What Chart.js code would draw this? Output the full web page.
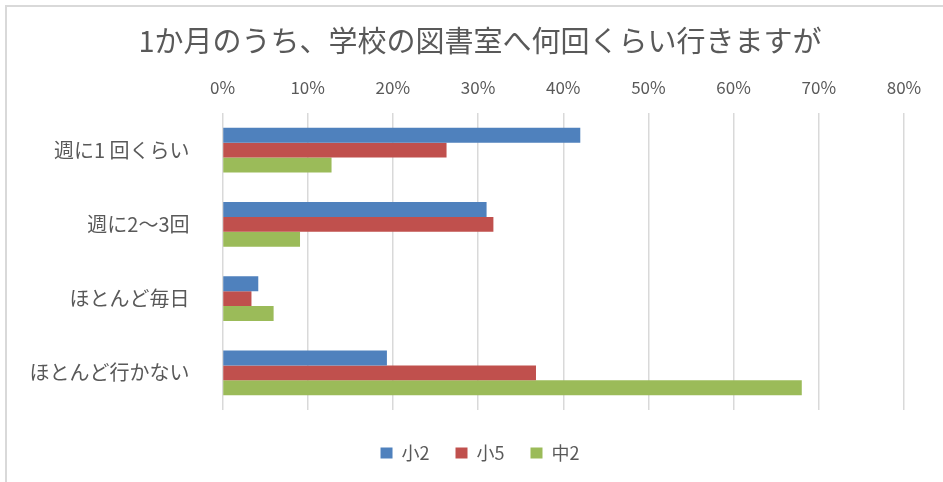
<!DOCTYPE html>
<html>
<head>
<meta charset="utf-8">
<script src="https://cdn.jsdelivr.net/npm/chart.js@4/dist/chart.umd.min.js"></script>
<style>
  html, body { margin: 0; padding: 0; background: #fff; }
</style>
</head>
<body>
<canvas id="chart" width="943" height="482"></canvas>
<script>
const titleText = '1か月のうち、学校の図書室へ何回くらい行きますが'
const categories = ['週に1 回くらい', '週に2～3回', 'ほとんど毎日', 'ほとんど行かない']
const seriesNames = ['小2', '小5', '中2']
const sho2 = [42.0, 31.0, 4.2, 19.3]
const sho5 = [26.3, 31.8, 3.4, 36.8]
const chu2 = [12.8, 9.1, 6.0, 68.0]
const xTicks = [0, 10, 20, 30, 40, 50, 60, 70, 80]

const colors = ['#4F81BD', '#C0504D', '#9BBB59']
const font = '"Noto Sans CJK JP", "Noto Sans", sans-serif'
const textColor = '#595959'

const frame = {
  id: 'frame',
  beforeDraw(chart) {
    const { ctx } = chart
    ctx.save()
    ctx.strokeStyle = '#d9d9d9'
    ctx.lineWidth = 2
    ctx.beginPath()
    ctx.moveTo(6, chart.height)
    ctx.lineTo(6, 6)
    ctx.lineTo(chart.width, 6)
    ctx.stroke()
    ctx.restore()
  },
}

const makeDataset = (label, data, color) => ({
  label,
  data,
  backgroundColor: color,
  borderWidth: 0,
  categoryPercentage: 0.606,
  barPercentage: 1.0,
})

// empty spacer axis, only used to reserve room around the plot
const spacer = (axis, position, size) => ({
  axis,
  type: axis === 'x' ? 'linear' : 'category',
  position,
  afterFit: (a) => {
    if (axis === 'x') a.height = size
    else a.width = size
  },
  ticks: { display: false },
  grid: { display: false },
  border: { display: false },
})

new Chart(document.getElementById('chart'), {
  type: 'bar',
  data: {
    labels: categories,
    datasets: [
      makeDataset(seriesNames[0], sho2, colors[0]),
      makeDataset(seriesNames[1], sho5, colors[1]),
      makeDataset(seriesNames[2], chu2, colors[2]),
    ],
  },
  options: {
    indexAxis: 'y',
    responsive: false,
    animation: false,
    layout: { padding: { left: 17, right: 0, top: 0, bottom: 10 } },
    scales: {
      x: {
        position: 'top',
        min: 0,
        max: 80,
        afterBuildTicks: (axis) => { axis.ticks = xTicks.map((v) => ({ value: v })) },
        afterFit: (axis) => { axis.height = 54.2 },
        ticks: {
          padding: 15,
          color: textColor,
          font: { family: font, size: 17 },
          callback: (v) => v + '%',
        },
        grid: { color: '#d9d9d9', lineWidth: 1.5, drawTicks: false },
        border: { display: false },
      },
      padBottom: spacer('x', 'bottom', 8),
      padRight: spacer('y', 'right', 39),
      y: {
        afterFit: (axis) => { axis.width = 205.5 },
        ticks: {
          padding: 25,
          color: textColor,
          font: { family: font, size: 20 },
        },
        grid: { display: false },
        border: { display: false },
      },
    },
    plugins: {
      title: {
        display: true,
        text: titleText,
        color: textColor,
        font: { family: font, size: 29, weight: 'normal' },
        padding: { top: 24, bottom: 0 },
      },
      legend: {
        position: 'bottom',
        labels: {
          color: textColor,
          font: { family: font, size: 18 },
          boxWidth: 12,
          boxHeight: 11,
          padding: 26,
        },
      },
      tooltip: { enabled: false },
    },
  },
  plugins: [frame],
})
</script>
</body>
</html>
